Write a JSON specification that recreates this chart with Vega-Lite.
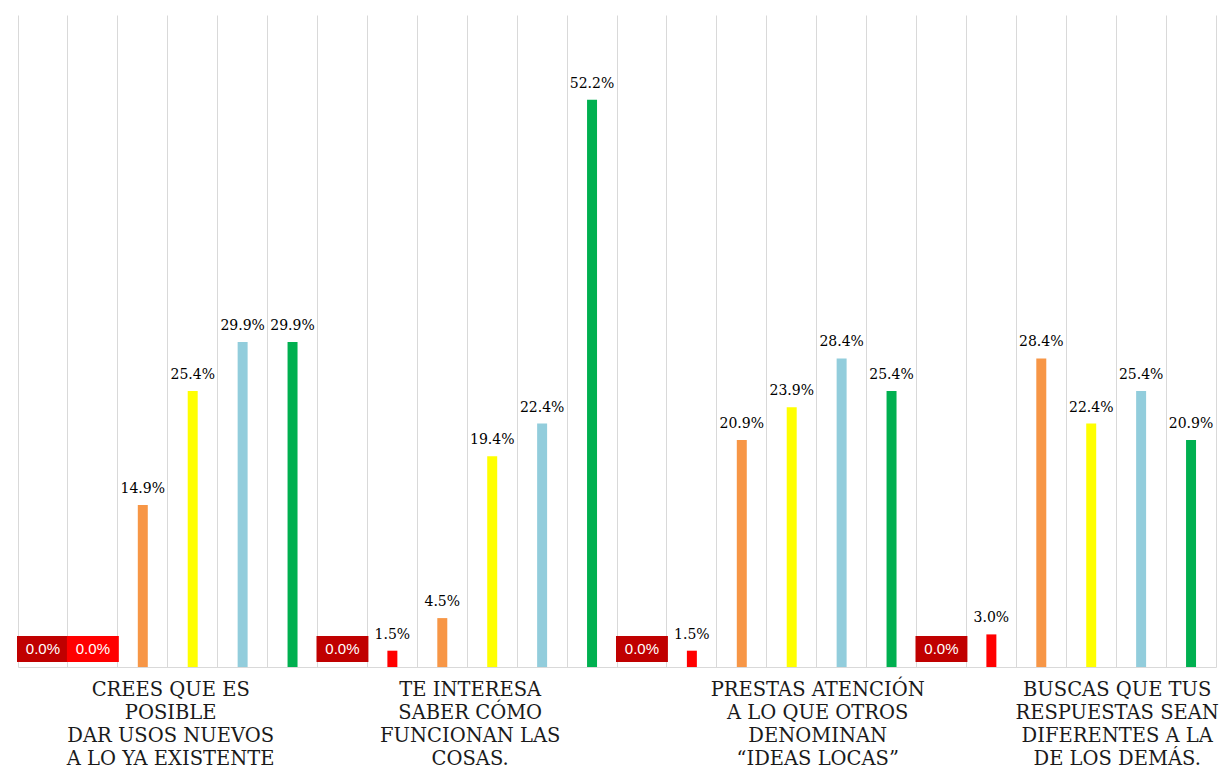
{
  "$schema": "https://vega.github.io/schema/vega-lite/v6.json",
  "width": 1198,
  "height": 652,
  "autosize": {"type": "none"},
  "padding": {"left": 18, "top": 15, "right": 6, "bottom": 104},
  "background": "white",
  "config": {"view": {"stroke": null}},
  "data": {
    "values": [
      {"slot": "g1s1", "grupo": 1, "serie": 1, "valor": 0.0},
      {"slot": "g1s2", "grupo": 1, "serie": 2, "valor": 0.0},
      {"slot": "g1s3", "grupo": 1, "serie": 3, "valor": 0.149},
      {"slot": "g1s4", "grupo": 1, "serie": 4, "valor": 0.254},
      {"slot": "g1s5", "grupo": 1, "serie": 5, "valor": 0.299},
      {"slot": "g1s6", "grupo": 1, "serie": 6, "valor": 0.299},
      {"slot": "g2s1", "grupo": 2, "serie": 1, "valor": 0.0},
      {"slot": "g2s2", "grupo": 2, "serie": 2, "valor": 0.015},
      {"slot": "g2s3", "grupo": 2, "serie": 3, "valor": 0.045},
      {"slot": "g2s4", "grupo": 2, "serie": 4, "valor": 0.194},
      {"slot": "g2s5", "grupo": 2, "serie": 5, "valor": 0.224},
      {"slot": "g2s6", "grupo": 2, "serie": 6, "valor": 0.522},
      {"slot": "g3s1", "grupo": 3, "serie": 1, "valor": 0.0},
      {"slot": "g3s2", "grupo": 3, "serie": 2, "valor": 0.015},
      {"slot": "g3s3", "grupo": 3, "serie": 3, "valor": 0.209},
      {"slot": "g3s4", "grupo": 3, "serie": 4, "valor": 0.239},
      {"slot": "g3s5", "grupo": 3, "serie": 5, "valor": 0.284},
      {"slot": "g3s6", "grupo": 3, "serie": 6, "valor": 0.254},
      {"slot": "g4s1", "grupo": 4, "serie": 1, "valor": 0.0},
      {"slot": "g4s2", "grupo": 4, "serie": 2, "valor": 0.03},
      {"slot": "g4s3", "grupo": 4, "serie": 3, "valor": 0.284},
      {"slot": "g4s4", "grupo": 4, "serie": 4, "valor": 0.224},
      {"slot": "g4s5", "grupo": 4, "serie": 5, "valor": 0.254},
      {"slot": "g4s6", "grupo": 4, "serie": 6, "valor": 0.209}
    ]
  },
  "encoding": {
    "x": {
      "field": "slot",
      "type": "nominal",
      "sort": null,
      "scale": {"paddingInner": 0, "paddingOuter": 0},
      "axis": {
        "title": null,
        "bandPosition": 0,
        "ticks": false,
        "grid": true,
        "gridColor": "#d9d9d9",
        "gridWidth": 1,
        "domainColor": "#d9d9d9",
        "labelAngle": 0,
        "labelAlign": "center",
        "labelBaseline": "top",
        "labelPadding": 13,
        "labelFont": "DejaVu Serif",
        "labelFontSize": 19.5,
        "labelLineHeight": 23,
        "labelLimit": 0,
        "labelColor": "#1a1a1a",
        "labelOverlap": false,
        "labelFlush": false,
        "labelBound": false,
        "labelOffset": {"condition": {"test": "datum.value == 'g1s4' || datum.value == 'g2s4'", "value": -22}, "value": 26},
        "labelExpr": "datum.value == 'g1s4' ? ['CREES QUE ES','POSIBLE','DAR USOS NUEVOS','A LO YA EXISTENTE'] : datum.value == 'g2s4' ? ['TE INTERESA','SABER CÓMO','FUNCIONAN LAS','COSAS.'] : datum.value == 'g3s4' ? ['PRESTAS ATENCIÓN','A LO QUE OTROS','DENOMINAN','“IDEAS LOCAS”'] : datum.value == 'g4s4' ? ['BUSCAS QUE TUS','RESPUESTAS SEAN','DIFERENTES A LA','DE LOS DEMÁS.'] : ''"
      }
    },
    "color": {
      "field": "serie",
      "type": "nominal",
      "scale": {"domain": [1, 2, 3, 4, 5, 6], "range": ["#C00000", "#FF0000", "#F79646", "#FFFF00", "#92CDDC", "#00B050"]},
      "legend": null
    }
  },
  "layer": [
    {
      "mark": {"type": "bar", "width": {"band": 0.2}},
      "encoding": {
        "y": {
          "field": "valor",
          "type": "quantitative",
          "scale": {"domain": [0, 0.6], "nice": false},
          "axis": {"orient": "right", "title": null, "labels": false, "ticks": false, "grid": false, "domainColor": "#d9d9d9"}
        }
      }
    },
    {
      "transform": [{"filter": "datum.valor > 0"}],
      "mark": {"type": "text", "font": "DejaVu Serif", "fontSize": 14, "baseline": "alphabetic", "dy": -12, "color": "#000000"},
      "encoding": {
        "y": {"field": "valor", "type": "quantitative", "axis": {"orient": "right", "title": null, "labels": false, "ticks": false, "grid": false, "domainColor": "#d9d9d9"}},
        "text": {"field": "valor", "type": "quantitative", "format": ".1%"},
        "color": {"value": "#000000"}
      }
    },
    {
      "transform": [{"filter": "datum.valor == 0"}],
      "mark": {"type": "bar", "width": {"band": 1.04}},
      "encoding": {
        "y": {"datum": 0.0046, "type": "quantitative", "axis": {"orient": "right", "title": null, "labels": false, "ticks": false, "grid": false, "domainColor": "#d9d9d9"}},
        "y2": {"datum": 0.0285}
      }
    },
    {
      "transform": [{"filter": "datum.valor == 0"}],
      "mark": {"type": "text", "font": "Liberation Sans", "fontSize": 15, "baseline": "middle", "color": "#ffffff"},
      "encoding": {
        "y": {"datum": 0.0166, "type": "quantitative", "axis": {"orient": "right", "title": null, "labels": false, "ticks": false, "grid": false, "domainColor": "#d9d9d9"}},
        "text": {"field": "valor", "type": "quantitative", "format": ".1%"},
        "color": {"value": "#ffffff"}
      }
    }
  ]
}
